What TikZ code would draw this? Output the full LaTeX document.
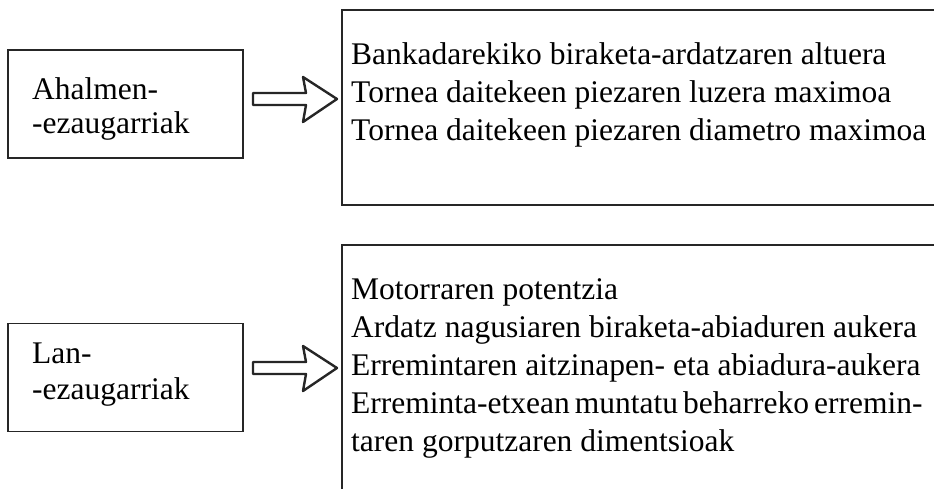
\documentclass[tikz,border=0pt]{standalone}
\usepackage{fontspec}
\setmainfont{Liberation Serif}
\begin{document}
\begin{tikzpicture}[x=1pt,y=-1pt,
  frame/.style={draw=black!85, line width=1.5pt},
  box/.style={frame, minimum width=235pt, minimum height=108pt, inner sep=0pt},
  lbl/.style={anchor=base west, inner sep=0pt, font=\fontsize{31.5}{38}\selectfont},
  blockarrow/.style={draw=black!85, line width=2.4pt, fill=white, line join=round}]
\useasboundingbox (0,0) rectangle (934,489);
% left boxes
\node[box] (b1) at (125.5,104) {};
\node[lbl] (b1l1) at (32,100) {Ahalmen-};
\node[lbl] (b1l2) at (32,134) {-ezaugarriak};
\node[box] (b2) at (125.5,377.5) {};
\node[lbl] (b2l1) at (32,363) {Lan-};
\node[lbl] (b2l2) at (32,399) {-ezaugarriak};
% right frames (open on the right)
\coordinate (r1a) at (934,10);
\coordinate (r1b) at (342,205);
\coordinate (r1c) at (934,205);
\draw[frame] (r1a) -| (r1b) -- (r1c);
\coordinate (r2a) at (934,245);
\coordinate (r2b) at (342,492);
\draw[frame] (r2a) -| (r2b);
% right texts
\node[lbl] (t11) at (351,65) {Bankadarekiko biraketa-ardatzaren altuera};
\node[lbl] (t12) at (351,103) {Tornea daitekeen piezaren luzera maximoa};
\node[lbl] (t13) at (351,141) {Tornea daitekeen piezaren diametro maximoa};
\node[lbl] (t21) at (351,299) {Motorraren potentzia};
\node[lbl] (t22) at (351,337) {Ardatz nagusiaren biraketa-abiaduren aukera};
\node[lbl] (t23) at (351,375) {Erremintaren aitzinapen- eta abiadura-aukera};
\node[lbl] (t24) at (351,413) {Erreminta-etxean\hspace{5pt}muntatu\hspace{5pt}beharreko\hspace{5pt}erremin-};
\node[lbl] (t25) at (351,451) {taren gorputzaren dimentsioak};
% block arrows
\coordinate (a1s) at (253,99);
\coordinate (a1t) at (337,99);
\draw[blockarrow] (a1s) ++(0,-6) -- ++(53,0) -- ++(-3,-16) -- (a1t) -- ++(-34,23) -- ++(3,-17) -- ++(-53,0) -- cycle;
\coordinate (a2s) at (253,368);
\coordinate (a2t) at (337,368);
\draw[blockarrow] (a2s) ++(0,-6) -- ++(53,0) -- ++(-3,-16) -- (a2t) -- ++(-34,23) -- ++(3,-17) -- ++(-53,0) -- cycle;
\end{tikzpicture}
\end{document}
